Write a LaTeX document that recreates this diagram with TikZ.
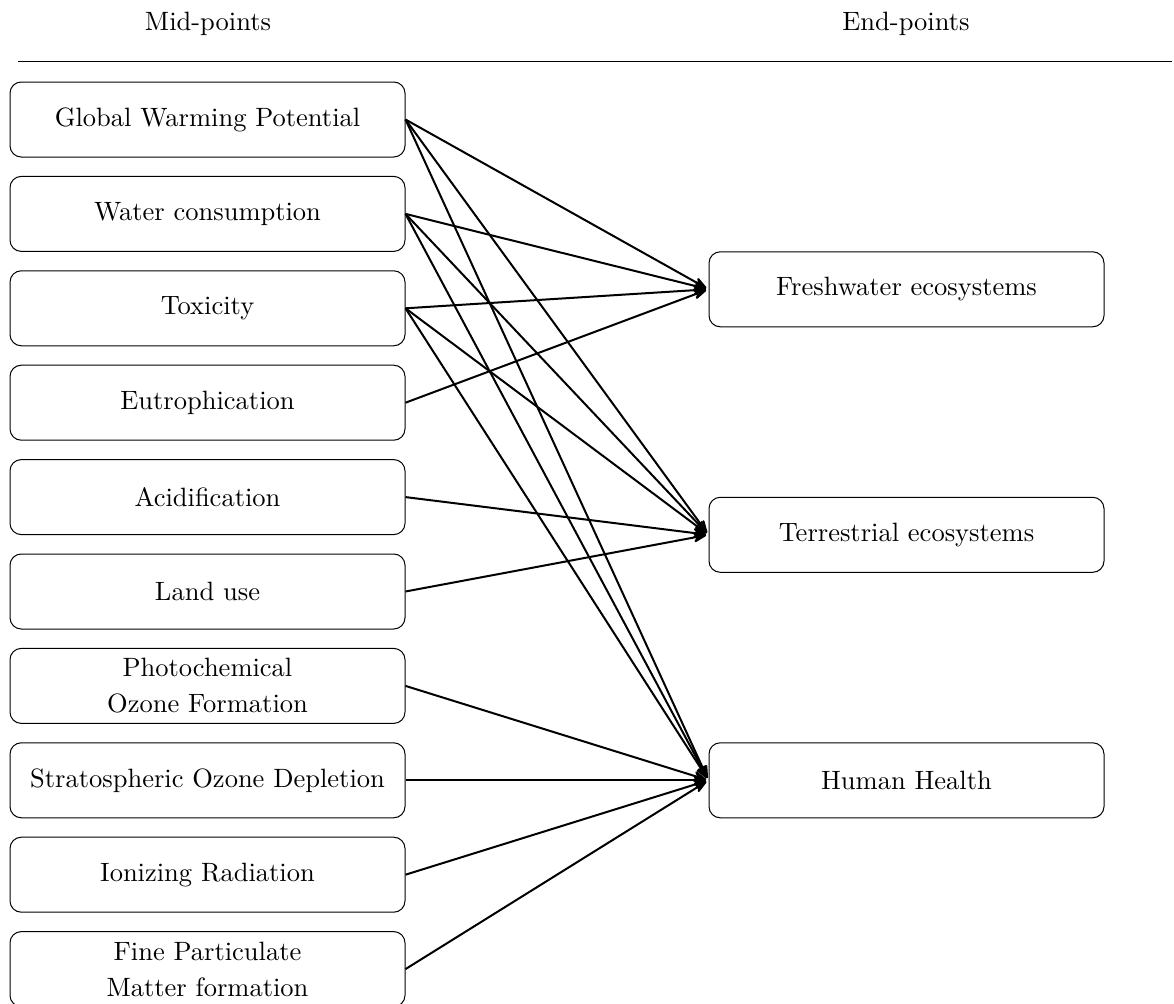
\documentclass[tikz,border=0pt]{standalone}
\usepackage{tikz}
\usetikzlibrary{arrows.meta, positioning}

\begin{document}
\begin{tikzpicture}[shorten >=1pt,node distance=37.76pt,on grid,>={Stealth[round]},
      font=\fontsize{10.6}{14.4}\selectfont,
      every box/.style={draw,rounded corners=4.5pt,minimum width=158pt,minimum height=30pt,align=center,thin}]
      \useasboundingbox (0,0) rectangle (469.6pt,-401.6pt);
      % headings
      \node (mid) at (83.2pt,-9.6pt) {Mid-points};
      \node (end) at (362.4pt,-9.6pt) {End-points};
      \coordinate (rl) at (7.2pt,-24.4pt);
      \coordinate (rr) at (469.6pt,-24.4pt);
      \draw (rl) -- (rr);
      % mid-points
      \node[every box] (gwp) at (83pt,-47.8pt) {Global Warming Potential};
      \node[every box] (water) [below=of gwp] {Water consumption};
      \node[every box] (tox) [below=of water] {Toxicity};
      \node[every box] (eutro) [below=of tox] {Eutrophication};
      \node[every box] (acid) [below=of eutro] {Acidification};
      \node[every box] (land) [below=of acid] {Land use};
      \node[every box] (photo) [below=of land] {Photochemical\\Ozone Formation};
      \node[every box] (strato) [below=of photo] {Stratospheric Ozone Depletion};
      \node[every box] (ion) [below=of strato] {Ionizing Radiation};
      \node[every box] (pm) [below=of ion] {Fine Particulate\\Matter formation};
      % end-points
      \node[every box] (health) [right=279.6pt of strato] {Human Health};
      \node[every box] (terr) [above=98.2pt of health] {Terrestrial ecosystems};
      \node[every box] (fresh) [above=98.2pt of terr] {Freshwater ecosystems};
      \path[->,thick]
      (gwp.east) edge (fresh.west) edge (terr.west) edge (health.west)
      (water.east) edge (fresh.west) edge (terr.west) edge (health.west)
      (tox.east) edge (fresh.west) edge (terr.west) edge (health.west)
      (eutro.east) edge (fresh.west)
      (acid.east) edge (terr.west)
      (land.east) edge (terr.west)
      (photo.east) edge (health.west)
      (strato.east) edge (health.west)
      (ion.east) edge (health.west)
      (pm.east) edge (health.west);
    \end{tikzpicture}
\end{document}
